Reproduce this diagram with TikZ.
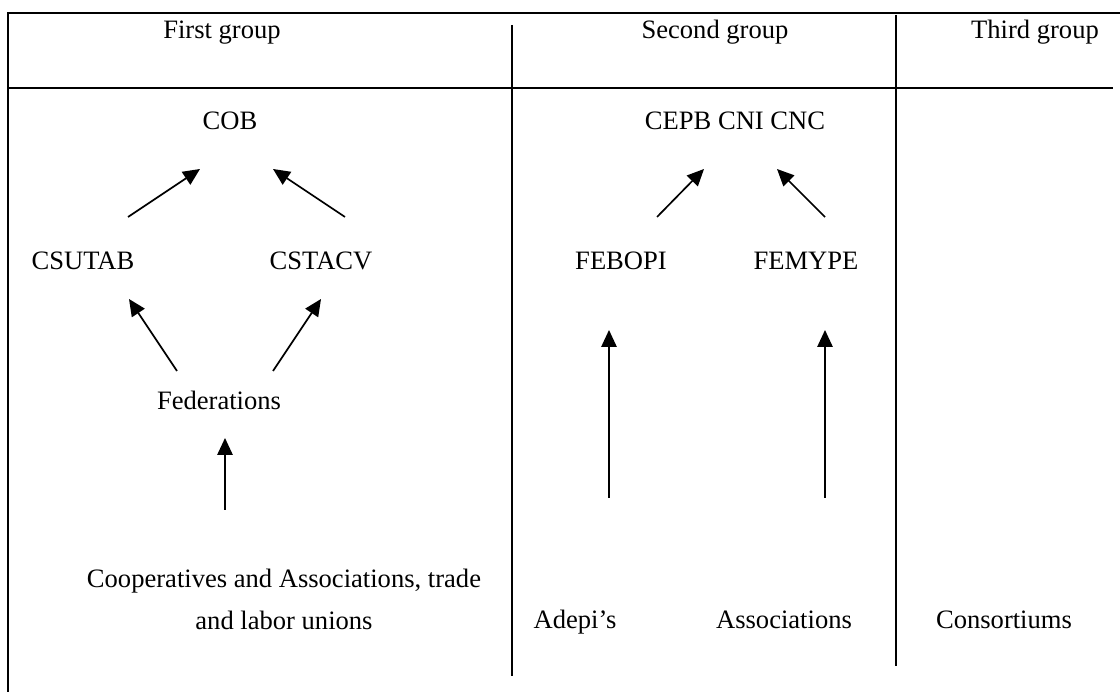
\documentclass[tikz,border=0pt]{standalone}
\usepackage{fontspec}
\setmainfont{Liberation Serif}
\usetikzlibrary{arrows.meta}

\begin{document}
\begin{tikzpicture}[
  font=\fontsize{18.9}{22.7}\selectfont,
  rule/.style={line width=1.3pt},
  link/.style={line width=1.2pt, -{Triangle[length=0.42cm,width=0.38cm]}},
  entry/.style={anchor=base, inner sep=0pt}
]

\useasboundingbox (0,0) rectangle (28,17.3);

% table lines
\draw[rule] (0.2,0) -- (0.2,16.98) -- (28,16.98);
\draw[rule] (0.2,15.1) -- (27.82,15.1);
\draw[rule] (12.81,16.675) -- (12.81,0.4);
\draw[rule] (22.4,16.925) -- (22.4,0.65);

% headers
\node[entry] (first) at (5.55,16.325) {First group};
\node[entry] (second) at (17.875,16.325) {Second group};
\node[entry] (third) at (25.875,16.325) {Third group};

% first group
\node[entry] (cob) at (5.75,14.05) {COB};
\node[entry] (csutab) at (2.075,10.55) {CSUTAB};
\node[entry] (cstacv) at (8.025,10.55) {CSTACV};
\node[entry] (feder) at (5.475,7.05) {Federations};
\node[align=center, inner sep=0pt, font=\fontsize{18.9}{29.9}\selectfont] (coop) at (7.1,2.31)
  {Cooperatives and Associations, trade\\ and labor unions};

% second group
\node[entry] (cepb) at (18.375,14.05) {CEPB CNI CNC};
\node[entry] (febopi) at (15.525,10.55) {FEBOPI};
\node[entry] (femype) at (20.15,10.55) {FEMYPE};
\node[entry] (adepi) at (14.375,1.575) {Adepi's};
\node[entry] (assoc) at (19.6,1.575) {Associations};

% third group
\node[entry] (consort) at (25.1,1.575) {Consortiums};

% arrow ends
\coordinate (cob-l) at (5.0,13.075);
\coordinate (cob-r) at (6.825,13.075);
\coordinate (csutab-up) at (3.2,11.875);
\coordinate (cstacv-up) at (8.625,11.875);
\coordinate (csutab-dn) at (3.225,9.825);
\coordinate (cstacv-dn) at (8.025,9.825);
\coordinate (feder-l) at (4.425,8.025);
\coordinate (feder-r) at (6.825,8.025);
\coordinate (feder-dn) at (5.625,6.35);
\coordinate (coop-up) at (5.625,4.55);
\coordinate (cepb-l) at (17.6,13.075);
\coordinate (cepb-r) at (19.425,13.075);
\coordinate (febopi-up) at (16.425,11.875);
\coordinate (femype-up) at (20.625,11.875);
\coordinate (febopi-dn) at (15.225,9.05);
\coordinate (femype-dn) at (20.625,9.05);
\coordinate (adepi-up) at (15.225,4.85);
\coordinate (assoc-up) at (20.625,4.85);

\draw[link] (csutab-up) -- (cob-l);
\draw[link] (cstacv-up) -- (cob-r);
\draw[link] (feder-l) -- (csutab-dn);
\draw[link] (feder-r) -- (cstacv-dn);
\draw[link] (coop-up) -- (feder-dn);

\draw[link] (febopi-up) -- (cepb-l);
\draw[link] (femype-up) -- (cepb-r);
\draw[link] (adepi-up) -- (febopi-dn);
\draw[link] (assoc-up) -- (femype-dn);

\end{tikzpicture}
\end{document}
